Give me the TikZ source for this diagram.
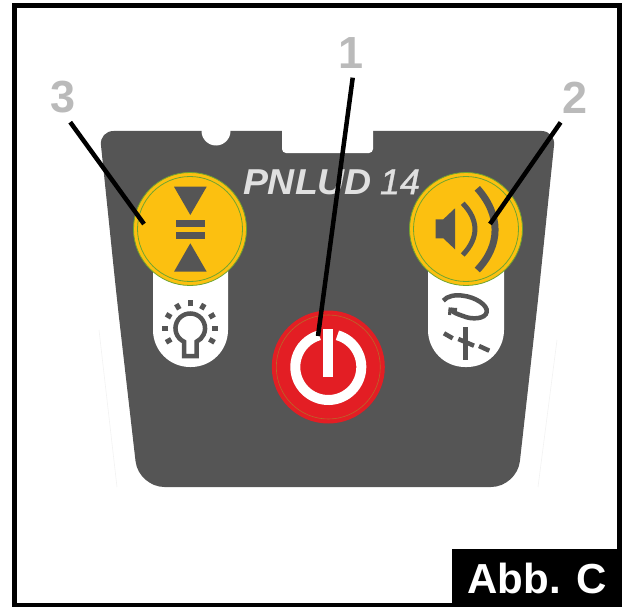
\documentclass[tikz,border=0pt]{standalone}
\usepackage{fontspec}
\setmainfont{Liberation Sans}
\definecolor{panelgrey}{HTML}{555555}
\definecolor{labelgrey}{HTML}{BABABA}
\definecolor{btnyellow}{HTML}{FCC010}
\definecolor{btnred}{HTML}{E31E24}
\definecolor{btngreen}{HTML}{6FA52F}
\definecolor{redring}{HTML}{B8682A}

\begin{document}
\begin{tikzpicture}[x=1pt,y=1pt,
  numlabel/.style = {font=\bfseries\fontsize{45}{45}\selectfont, text=labelgrey, inner sep=9pt},
  btnyel/.style = {circle, minimum size=113pt, inner sep=0pt, fill=btnyellow, draw=btngreen, line width=0.8pt},
  btnpow/.style = {circle, minimum size=113pt, inner sep=0pt, fill=btnred},
  ringline/.style = {circle, minimum size=105pt, inner sep=0pt, draw=btngreen, line width=0.8pt},
  pill/.style = {fill=white, rounded corners=37pt},
  icon/.style = {draw=panelgrey, line width=4.5pt},
  leader/.style = {draw=black, line width=4.5pt}]
  \useasboundingbox (0,-610) rectangle (630,0);
  \draw[black!5, line width=0.6pt] (99,-330) -- (117,-487);
  \draw[black!5, line width=0.6pt] (557,-340) -- (538,-487);
  \fill[panelgrey, rounded corners=14pt] (99.5,-131) -- (555.5,-131) -- (538,-300)
    [rounded corners=26pt] -- (517,-487) -- (138.5,-487) -- (117,-300)
    [rounded corners=14pt] -- cycle;
  \fill[white] (216,-131) circle (14.5);
  \fill[white, rounded corners=4pt] (282,-120) rectangle (373,-153);
  \node[font=\fontsize{36}{36}\selectfont\itshape, text=black!12, inner sep=0pt] (model) at (331.5,-182)
    {{\addfontfeature{FakeStretch=1.04}\bfseries PNLUD}\hspace{8pt}{\addfontfeature{FakeBold=1}14}};
  \fill[pill] (153,-229) rectangle (228,-367);
  \fill[pill] (428,-229) rectangle (504,-367);
  \node[btnyel] (btnlamp) at (190,-229) {};
  \node[ringline] (lampring) at (btnlamp) {};
  \node[btnyel] (btnsound) at (466,-229) {};
  \node[ringline] (soundring) at (btnsound) {};
  \node[btnpow] (btnpower) at (328.3,-367) {};
  \node[ringline, draw=redring, minimum size=104pt, line width=0.6pt] (powerring) at (btnpower) {};
  % lamp button
  \fill[panelgrey] (174,-186.7) -- (206.7,-186.7) -- (190.3,-215) -- cycle;
  \fill[panelgrey] (174,-271.7) -- (206.7,-271.7) -- (190.3,-243.3) -- cycle;
  \fill[panelgrey] (176,-220) rectangle (205,-227.3);
  \fill[panelgrey] (176,-231.7) rectangle (205,-238.7);
  \draw[icon] (184,-341.7) arc[start angle=245, end angle=-65, radius=14.8] -- (196.6,-356) -- (184,-356) -- cycle;
  \foreach \ang in {90,120,60,150,30,180,0,210,-30}
    \draw[panelgrey, line width=5pt] (190.3,-328.3) ++(\ang:22) -- ++(\ang:6);
  % sound button
  \fill[panelgrey] (435.7,-219.3) -- (443.3,-219.3) -- (455,-208.3) -- (455,-249.3) -- (443.3,-238.3) -- (435.7,-238.3) -- cycle;
  \draw[panelgrey, line width=5pt] (462.7,-203.3) .. controls (479,-220) and (479,-238) .. (462.7,-255);
  \draw[panelgrey, line width=7pt] (477.3,-188.3) .. controls (501,-215) and (501,-245) .. (477.3,-270);
  \draw[icon] (443.3,-300.7) .. controls (447,-296) and (455,-294.5) .. (463,-295.7)
    .. controls (475,-297) and (488,-305) .. (486.7,-312)
    .. controls (485.5,-319) and (472,-320) .. (463,-316)
    .. controls (457,-314) and (452,-312) .. (450,-309);
  \draw[panelgrey, line width=3pt] (449.5,-315) -- (450,-309) -- (457,-309.5);
  \draw[panelgrey, line width=4.5pt] (465.7,-327.3) -- (465.7,-360);
  \draw[panelgrey, line width=4.5pt] (458.3,-339) -- (474,-345.7);
  \draw[panelgrey, line width=4.5pt] (444,-333.3) -- (452.7,-338.3);
  \draw[panelgrey, line width=4.5pt] (479,-346) -- (489.3,-350.7);
  % power button
  \draw[white, line width=10pt] (btnpower.center) ++(74:33) arc[start angle=74, end angle=-254, radius=33];
  \fill[white] (323.3,-329) rectangle (333.3,-377);
  % numbers
  \node[numlabel] (num1) at (351,-53) {1};
  \node[numlabel] (num2) at (575,-97.5) {2};
  \node[numlabel] (num3) at (63,-97) {3};
  \coordinate (tip1) at (318,-336);
  \coordinate (tip2) at (490,-224);
  \coordinate (tip3) at (144,-224);
  \draw[leader] (num1.-86) -- (tip1);
  \draw[leader] (num2.-120) -- (tip2);
  \draw[leader] (num3.-74) -- (tip3);
  \draw[black, line width=4.5pt] (14.5,-5.3) rectangle (619.5,-605);
  \node[fill=black, text=white, font=\bfseries\fontsize{42}{42}\selectfont, inner sep=0pt,
    minimum width=170pt, minimum height=58pt] (abbbox) at (537,-578) {Abb. C};
\end{tikzpicture}
\end{document}
